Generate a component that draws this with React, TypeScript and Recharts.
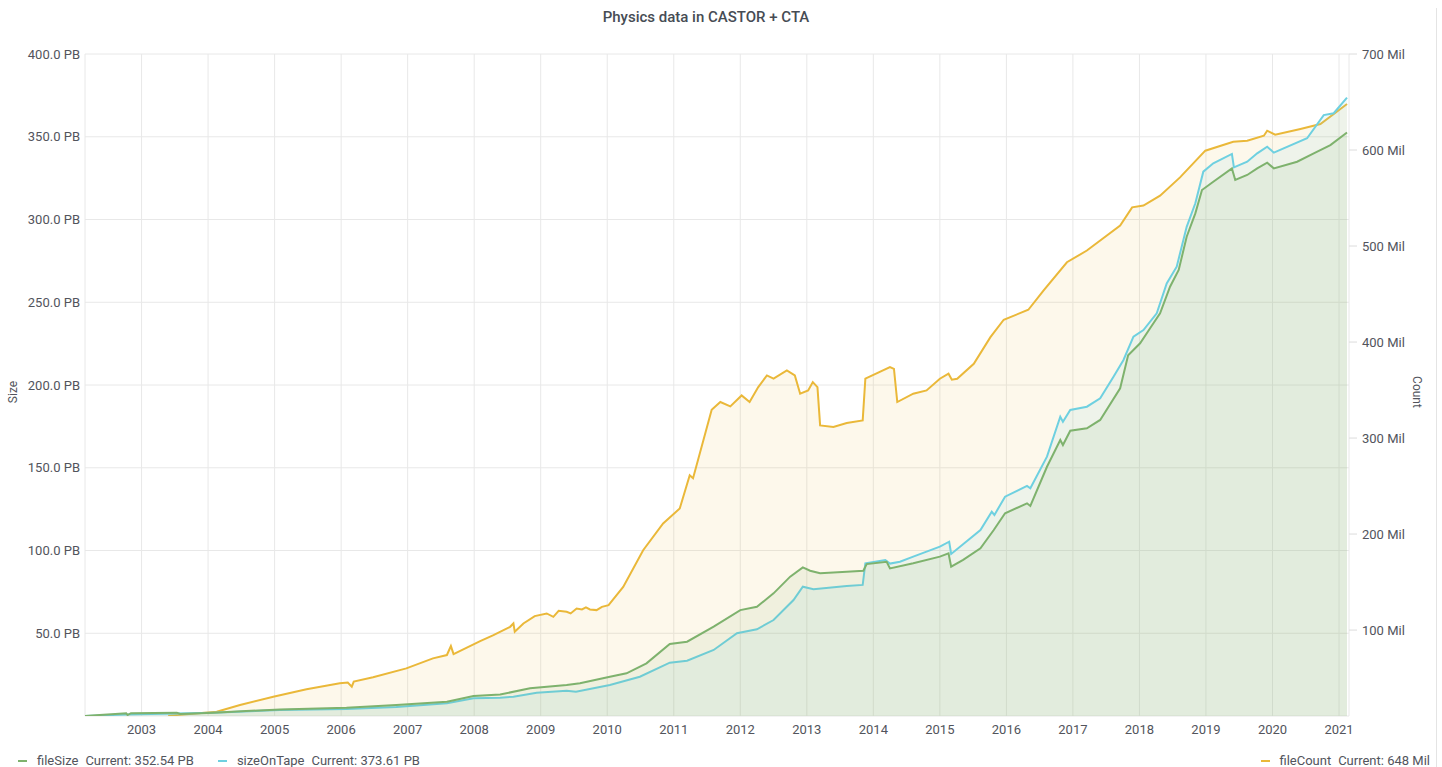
import React from "react";
import { ComposedChart, Area, XAxis, YAxis, CartesianGrid } from "recharts";

// time axis (decimal years) and tick labels
const yearTicks = [
  2003, 2004, 2005, 2006, 2007, 2008, 2009, 2010, 2011, 2012, 2013, 2014,
  2015, 2016, 2017, 2018, 2019, 2020, 2021,
];
const sizeTicks = [50, 100, 150, 200, 250, 300, 350, 400];
const countTicks = [100, 200, 300, 400, 500, 600, 700];

// fileSize (PB)
const fileSizeYears = [
  2002.15, 2002.37, 2002.77, 2002.79, 2002.84, 2003.53, 2003.58, 2004.08,
  2004.57, 2005.08, 2006.08, 2006.83, 2007.59, 2007.99, 2008.39, 2008.84,
  2009.39, 2009.59, 2010.04, 2010.29, 2010.59, 2010.94, 2011.2, 2011.6,
  2012.0, 2012.25, 2012.5, 2012.75, 2012.94, 2013.05, 2013.2, 2013.6,
  2013.85, 2013.9, 2014.2, 2014.25, 2014.6, 2015.0, 2015.13, 2015.17,
  2015.35, 2015.61, 2015.81, 2015.98, 2016.31, 2016.36, 2016.61, 2016.81,
  2016.85, 2016.96, 2017.21, 2017.41, 2017.71, 2017.83, 2018.01, 2018.16,
  2018.31, 2018.46, 2018.59, 2018.71, 2018.84, 2018.94, 2019.11, 2019.39,
  2019.44, 2019.62, 2019.77, 2019.92, 2020.02, 2020.37, 2020.62, 2020.87,
  2021.12,
];
const fileSizePB = [
  0, 0.6, 1.6, 0.6, 1.7, 2.0, 1.2, 2.0, 3.0, 4.0, 5.0, 6.6, 8.6, 12.1, 13.0,
  16.7, 18.7, 19.8, 23.7, 25.8, 31.8, 43.5, 44.9, 54.0, 64.0, 66.0, 74.1,
  84.2, 89.8, 87.8, 86.2, 87.2, 87.8, 91.8, 93.2, 89.2, 92.3, 96.3, 98.3,
  90.2, 94.3, 101.3, 112.4, 122.5, 128.5, 126.9, 150.6, 166.8, 163.7, 172.4,
  173.8, 178.9, 198.0, 218.0, 225.2, 234.3, 243.3, 259.4, 269.5, 289.6,
  303.7, 317.8, 322.8, 330.9, 323.9, 326.9, 330.9, 334.3, 330.9, 334.9,
  340.0, 345.0, 352.54,
];

// sizeOnTape (PB)
const tapeYears = [
  2002.15, 2002.77, 2003.53, 2004.08, 2005.08, 2006.08, 2006.83, 2007.59,
  2007.99, 2008.39, 2008.59, 2008.94, 2009.39, 2009.53, 2010.04, 2010.49,
  2010.94, 2011.2, 2011.6, 2011.95, 2012.25, 2012.5, 2012.8, 2012.94,
  2013.1, 2013.6, 2013.84, 2013.88, 2014.18, 2014.25, 2014.4, 2014.6,
  2015.0, 2015.14, 2015.17, 2015.61, 2015.78, 2015.82, 2015.98, 2016.31,
  2016.36, 2016.61, 2016.81, 2016.85, 2016.96, 2017.21, 2017.41, 2017.61,
  2017.76, 2017.91, 2018.06, 2018.26, 2018.41, 2018.56, 2018.71, 2018.84,
  2018.96, 2019.11, 2019.39, 2019.42, 2019.62, 2019.77, 2019.92, 2020.02,
  2020.52, 2020.77, 2020.92, 2021.12,
];
const tapePB = [
  0, 0.9, 1.5, 2.0, 3.6, 4.2, 5.4, 7.7, 10.7, 11.1, 11.7, 14.1, 15.3, 14.7,
  18.7, 23.7, 32.2, 33.4, 39.9, 50.0, 52.4, 58.0, 70.1, 78.1, 76.6, 78.5,
  79.2, 92.3, 94.3, 92.1, 93.2, 96.3, 102.3, 105.3, 97.9, 112.4, 123.4,
  121.5, 132.5, 139.0, 137.6, 156.7, 180.8, 177.8, 184.9, 186.9, 192.0,
  205.0, 215.1, 229.2, 233.2, 243.3, 261.4, 271.5, 295.6, 309.8, 328.9,
  334.0, 339.6, 331.5, 334.9, 340.0, 344.0, 340.4, 349.1, 363.1, 364.2,
  373.61,
];

// fileCount (Mil)
const countYears = [
  2003.4, 2004.13, 2004.48, 2004.98, 2005.48, 2005.98, 2006.1, 2006.16,
  2006.19, 2006.48, 2006.98, 2007.38, 2007.59, 2007.65, 2007.69, 2008.09,
  2008.29, 2008.54, 2008.59, 2008.61, 2008.74, 2008.91, 2009.09, 2009.19,
  2009.27, 2009.39, 2009.45, 2009.54, 2009.62, 2009.68, 2009.74, 2009.84,
  2009.92, 2010.02, 2010.24, 2010.54, 2010.84, 2011.09,
  2011.24, 2011.29, 2011.57, 2011.7, 2011.85, 2012.02, 2012.14, 2012.27,
  2012.4, 2012.5, 2012.7, 2012.82, 2012.9, 2013.02, 2013.09, 2013.16,
  2013.2, 2013.4, 2013.6, 2013.84, 2013.88, 2014.25, 2014.31, 2014.36,
  2014.6, 2014.8, 2015.0, 2015.13, 2015.18, 2015.26, 2015.51, 2015.76,
  2015.96, 2016.33, 2016.56, 2016.91, 2017.21, 2017.71, 2017.89, 2018.06,
  2018.31, 2018.61, 2018.99, 2019.41, 2019.62, 2019.87, 2019.92, 2020.04,
  2020.42, 2020.72, 2021.12,
];
const countMil = [
  10.8, 15.0, 21.9, 30.6, 38.3, 44.5, 45.3, 41.0, 46.4, 50.8, 60.1, 70.5,
  74.0, 83.3, 75.0, 88.5, 94.8, 103.4, 106.9, 98.2, 106.9, 114.5, 117.3,
  113.8, 120.0, 119.0, 117.3, 122.5, 121.5, 123.6, 121.5, 120.8, 124.2,
  126.0, 145.0, 183.2, 211.0, 226.6, 261.2,
  258.1, 329.5, 337.5, 333.0, 344.4, 337.5, 353.1, 365.2, 361.8, 370.4,
  365.2, 346.2, 349.6, 358.3, 353.1, 313.2, 311.5, 315.6, 318.4, 361.8,
  373.9, 372.0, 337.5, 346.2, 349.6, 361.8, 367.0, 360.8, 361.8, 377.4,
  405.1, 423.2, 433.6, 453.7, 483.1, 495.3, 521.3, 540.3, 542.1, 552.5,
  571.5, 599.3, 608.6, 609.7, 614.9, 620.1, 615.9, 621.9, 627.1, 648,
];

const GREEN = "#7eb26d";
const CYAN = "#6ed0e0";
const YELLOW = "#eab839";
const TEXT = "#52545c";

const toRows = (ts: number[], vs: number[]) => ts.map((t, i) => ({ t, v: vs[i] }));

const LegendItem = ({ color, name, value }: { color: string; name: string; value: string }) => (
  <span style={{ display: "inline-flex", alignItems: "center", marginRight: 24 }}>
    <span style={{ display: "inline-block", width: 9, height: 2, background: color, marginRight: 10 }} />
    <span style={{ marginRight: 7 }}>{name}</span>
    <span>{value}</span>
  </span>
);

export default function App() {
  const sizeRows = toRows(fileSizeYears, fileSizePB);
  const tapeRows = toRows(tapeYears, tapePB);
  const countRows = toRows(countYears, countMil);

  const lastSize = fileSizePB[fileSizePB.length - 1];
  const lastTape = tapePB[tapePB.length - 1];
  const lastCount = countMil[countMil.length - 1];

  return (
    <div
      style={{
        position: "absolute",
        left: 0,
        top: 0,
        width: 1442,
        height: 767,
        background: "#fff",
        fontFamily: "Roboto, sans-serif",
        color: TEXT,
        overflow: "hidden",
      }}
    >
      <div
        style={{
          position: "absolute",
          top: 8,
          left: 0,
          width: 1412,
          textAlign: "center",
          fontSize: 15,
          lineHeight: "18px",
          fontWeight: 500,
          color: "#464c54",
        }}
      >
        Physics data in CASTOR + CTA
      </div>
      <div style={{ position: "absolute", left: 1436, top: 8, width: 1, height: 759, background: "#e4e4e4" }} />

      <div style={{ position: "absolute", left: 0, top: 0 }}>
        <ComposedChart width={1442} height={745} margin={{ top: 54, right: 33, bottom: 9, left: 0 }}>
          <CartesianGrid stroke="#e8e8e8" yAxisId="left" />
          <XAxis
            dataKey="t"
            type="number"
            domain={[2002.15, 2021.15]}
            ticks={yearTicks}
            allowDataOverflow
            tickFormatter={(v: number) => String(Math.round(v))}
            axisLine={false}
            tickLine={false}
            tickSize={0}
            tickMargin={9}
            height={20}
            tick={{ fill: TEXT, fontSize: 13 }}
          />
          <YAxis
            yAxisId="left"
            domain={[0, 400]}
            ticks={sizeTicks}
            allowDataOverflow
            tickFormatter={(v: number) => `${v.toFixed(1)} PB`}
            width={85}
            axisLine={false}
            tickLine={false}
            tickSize={0}
            tickMargin={5}
            tick={{ fill: TEXT, fontSize: 13 }}
          />
          <YAxis
            yAxisId="right"
            orientation="right"
            domain={[10.5, 700]}
            ticks={countTicks}
            allowDataOverflow
            tickFormatter={(v: number) => `${v} Mil`}
            width={60}
            axisLine={false}
            tickLine={{ stroke: "#dcdcdc" }}
            tickSize={8}
            tickMargin={5}
            tick={{ fill: TEXT, fontSize: 13 }}
          />
          <Area
            data={countRows}
            dataKey="v"
            yAxisId="right"
            type="linear"
            stroke={YELLOW}
            strokeWidth={2}
            fill={YELLOW}
            fillOpacity={0.1}
            dot={false}
            activeDot={false}
            isAnimationActive={false}
          />
          <Area
            data={tapeRows}
            dataKey="v"
            yAxisId="left"
            type="linear"
            stroke={CYAN}
            strokeWidth={2}
            fill={CYAN}
            fillOpacity={0.1}
            dot={false}
            activeDot={false}
            isAnimationActive={false}
          />
          <Area
            data={sizeRows}
            dataKey="v"
            yAxisId="left"
            type="linear"
            stroke={GREEN}
            strokeWidth={2}
            fill={GREEN}
            fillOpacity={0.1}
            dot={false}
            activeDot={false}
            isAnimationActive={false}
          />
        </ComposedChart>
      </div>

      <div
        style={{
          position: "absolute",
          left: 13,
          top: 392,
          transform: "translate(-50%, -50%) rotate(-90deg)",
          fontSize: 12,
          whiteSpace: "nowrap",
        }}
      >
        Size
      </div>
      <div
        style={{
          position: "absolute",
          left: 1417,
          top: 392,
          transform: "translate(-50%, -50%) rotate(90deg)",
          fontSize: 12,
          whiteSpace: "nowrap",
        }}
      >
        Count
      </div>

      <div style={{ position: "absolute", left: 18, top: 750, fontSize: 13, lineHeight: "16px", whiteSpace: "nowrap" }}>
        <LegendItem color={GREEN} name="fileSize" value={`Current: ${lastSize.toFixed(2)} PB`} />
        <LegendItem color={CYAN} name="sizeOnTape" value={`Current: ${lastTape.toFixed(2)} PB`} />
      </div>
      <div style={{ position: "absolute", right: 12, top: 750, fontSize: 13, lineHeight: "16px", whiteSpace: "nowrap" }}>
        <span style={{ display: "inline-flex", alignItems: "center" }}>
          <span style={{ display: "inline-block", width: 9, height: 2, background: YELLOW, marginRight: 9 }} />
          <span style={{ marginRight: 7 }}>fileCount</span>
          <span>{`Current: ${Math.round(lastCount)} Mil`}</span>
        </span>
      </div>
    </div>
  );
}
